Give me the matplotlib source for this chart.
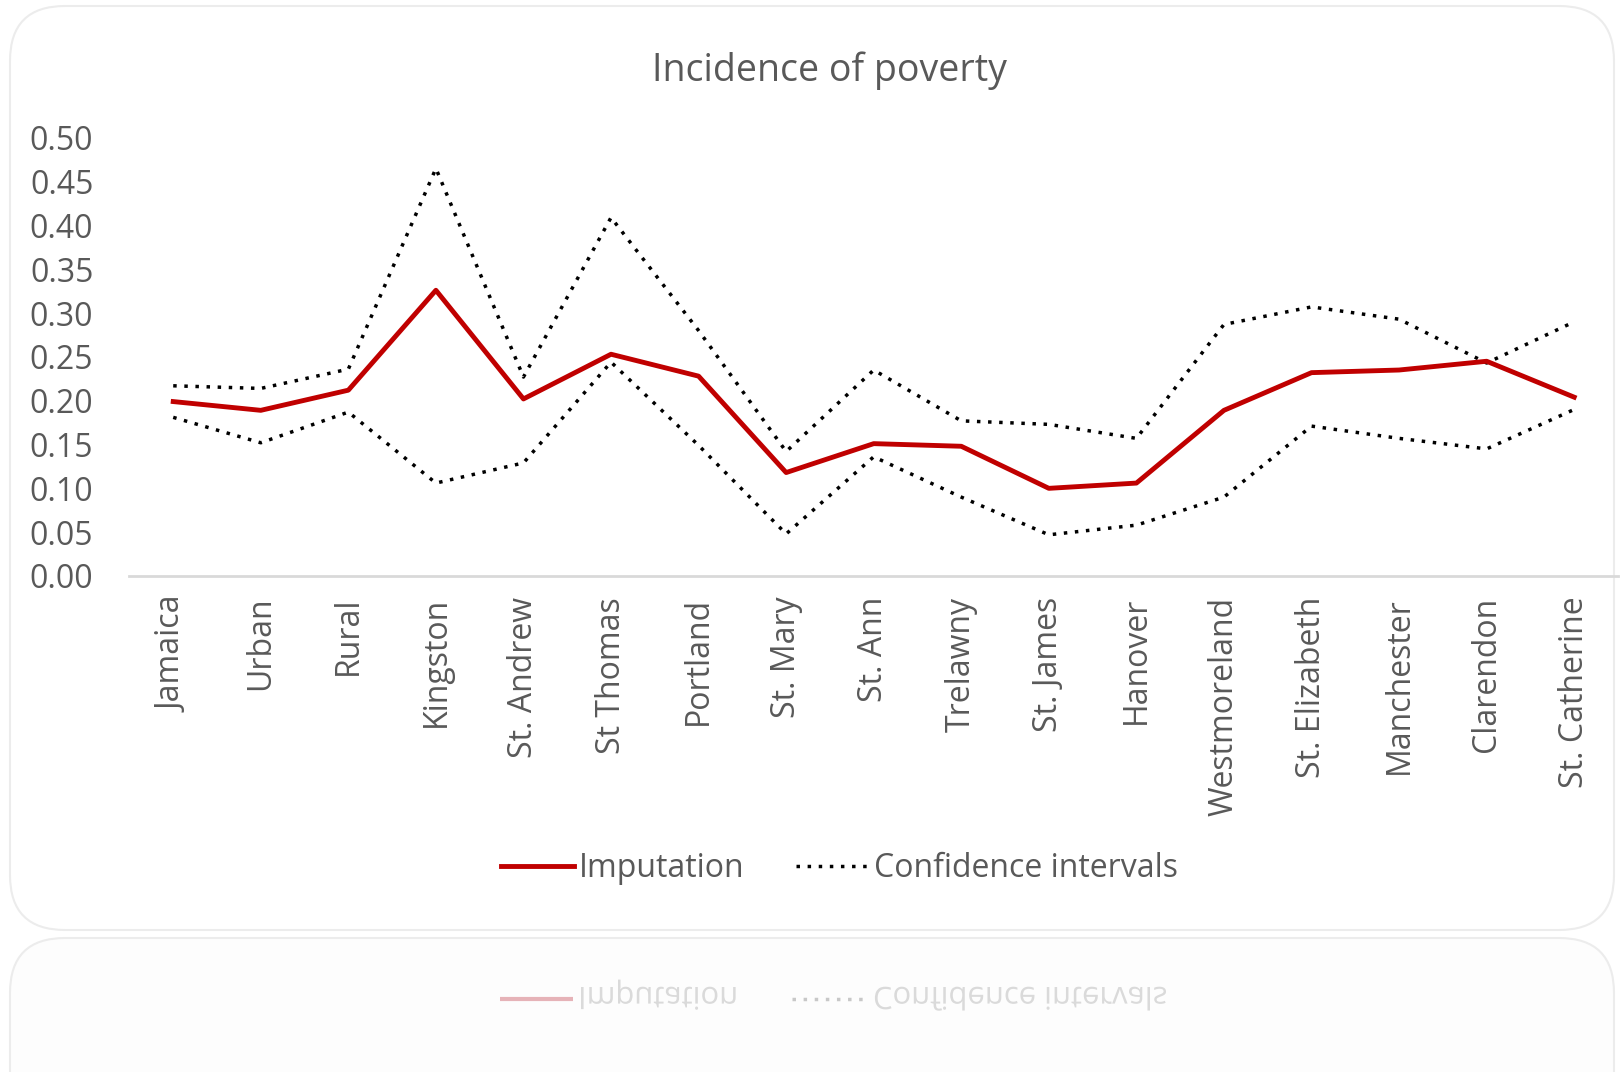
import matplotlib
matplotlib.use("Agg")
import matplotlib.pyplot as plt
from matplotlib.patches import FancyBboxPatch, PathPatch
from matplotlib.textpath import TextPath
from matplotlib.font_manager import FontProperties

plt.rcParams['font.family'] = ['Open Sans', 'DejaVu Sans']

regions = ['Jamaica', 'Urban', 'Rural', 'Kingston', 'St. Andrew', 'St Thomas',
           'Portland', 'St. Mary', 'St. Ann', 'Trelawny', 'St. James', 'Hanover',
           'Westmoreland', 'St. Elizabeth', 'Manchester', 'Clarendon', 'St. Catherine']
imputation = [0.199, 0.189, 0.212, 0.326, 0.202, 0.253, 0.228, 0.118, 0.151,
              0.148, 0.100, 0.106, 0.189, 0.232, 0.235, 0.245, 0.204]
ci_upper = [0.217, 0.214, 0.236, 0.465, 0.227, 0.409, 0.280, 0.142, 0.235,
            0.177, 0.173, 0.157, 0.287, 0.307, 0.293, 0.243, 0.290]
ci_lower = [0.181, 0.152, 0.187, 0.106, 0.129, 0.244, 0.149, 0.048, 0.136,
            0.090, 0.047, 0.058, 0.090, 0.171, 0.157, 0.145, 0.190]
yticks = [0.0, 0.05, 0.10, 0.15, 0.20, 0.25, 0.30, 0.35, 0.40, 0.45, 0.50]

grey = '#595959'
red = '#C00000'
dots = (0, (1, 2.2))

fig = plt.figure(figsize=(16.24, 10.72), dpi=100)

# background "cards" in pixel units
bg = fig.add_axes([0, 0, 1, 1], zorder=-1)
bg.set_xlim(0, 1624)
bg.set_ylim(1072, 0)
bg.axis('off')
card1 = FancyBboxPatch((10, 6), 1604, 924, boxstyle='round,pad=0,rounding_size=55',
                       fc='white', ec='#ececec', lw=1.5)
card2 = FancyBboxPatch((10, 938), 1604, 200, boxstyle='round,pad=0,rounding_size=55',
                       fc='#fdfdfd', ec='#ececec', lw=1.5)
bg.add_patch(card1)
bg.add_patch(card2)

# faded reflection of the legend
bg.plot([500, 573], [999, 999], color='#e6b3b8', lw=3, solid_capstyle='butt')
bg.plot([792, 865], [999, 999], color='#c8c8c8', lw=2.5, linestyle=dots)
fp = FontProperties(family='Open Sans')
for x0, s in [(578, 'Imputation'), (873, 'Confidence intervals')]:
    tp = TextPath((x0, 987), s, size=31, prop=fp)
    bg.add_patch(PathPatch(tp, fc='#dadada', ec='none'))

ax = fig.add_axes([0.0797, 0.4627, 0.9166, 0.4088])
ax.patch.set_alpha(0)
x = list(range(len(regions)))
ax.plot(x, imputation, color=red, lw=3.5, label='Imputation', zorder=3)
ax.plot(x, ci_upper, color='black', lw=2.5, linestyle=dots,
        label='Confidence intervals', zorder=2)
ax.plot(x, ci_lower, color='black', lw=2.5, linestyle=dots, zorder=2)

ax.set_xlim(-0.5, len(regions) - 0.5)
ax.set_ylim(0, 0.5)
ax.set_yticks(yticks)
ax.set_yticklabels([f'{v:.2f}' for v in yticks])
ax.set_xticks(x)
ax.set_xticklabels(regions, rotation=90)
ax.tick_params(axis='y', length=0, pad=26, labelsize=23, labelcolor=grey)
ax.tick_params(axis='x', length=0, pad=15, labelsize=23, labelcolor=grey)
for side in ['top', 'right', 'left']:
    ax.spines[side].set_visible(False)
ax.spines['bottom'].set_color('#d9d9d9')
ax.spines['bottom'].set_linewidth(2)

fig.text(0.511, 0.934, 'Incidence of poverty', ha='center', va='center',
         fontsize=27, color=grey)

fig.legend(loc='center', bbox_to_anchor=(0.517, 0.19), ncol=2, frameon=False,
           fontsize=23, labelcolor=grey, handlelength=2.3, handletextpad=0.15,
           columnspacing=1.6)

fig.savefig('out.png', dpi=100)
